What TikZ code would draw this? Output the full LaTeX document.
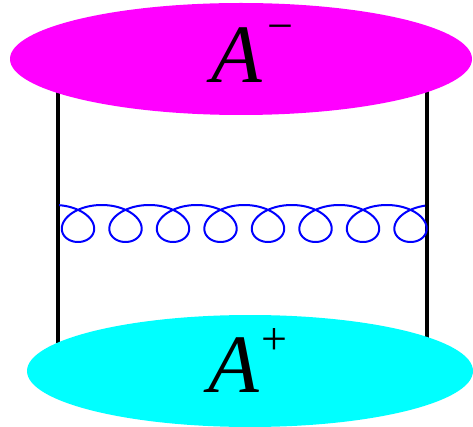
\documentclass[tikz,border=0pt]{standalone}
\usepackage{fontspec}
\setmainfont{Liberation Serif}
\definecolor{topblob}{RGB}{255,0,255}
\definecolor{botblob}{RGB}{0,255,255}
\definecolor{gluonblue}{RGB}{0,0,255}
\begin{document}
\begin{tikzpicture}[x=1pt,y=-1pt,
  quark/.style={line width=3.6pt},
  gluon/.style={gluonblue,line width=2pt},
  blob/.style={draw=none},
  biglet/.style={inner sep=0pt,font=\fontsize{83}{83}\selectfont\itshape},
  suplet/.style={inner sep=0pt,font=\fontsize{46}{46}\selectfont}]
\useasboundingbox (0,0) rectangle (473,427);
\coordinate (lt) at (58,90);
\coordinate (lb) at (58,343);
\coordinate (rt) at (427,90);
\coordinate (rb) at (427,339);
\draw[quark] (lt) -- (lb);
\draw[quark] (rt) -- (rb);
\draw[gluon,smooth,samples=600,domain=-3.0:46.86,variable=\t]
  plot ({78 + 7.56*\t - 27*sin(\t r)},{223.5 + 18.5*cos(\t r)});
\fill[topblob,blob] (241,59) ellipse [x radius=231,y radius=56];
\fill[botblob,blob] (250,371) ellipse [x radius=223,y radius=56];
\node[biglet,anchor=base west] (am) at (211,83) {A};
\node[suplet] (ms) at (280,33) {−};
\node[biglet,anchor=base west] (ap) at (208,392) {A};
\node[suplet] (ps) at (274,342) {+};
\end{tikzpicture}
\end{document}
